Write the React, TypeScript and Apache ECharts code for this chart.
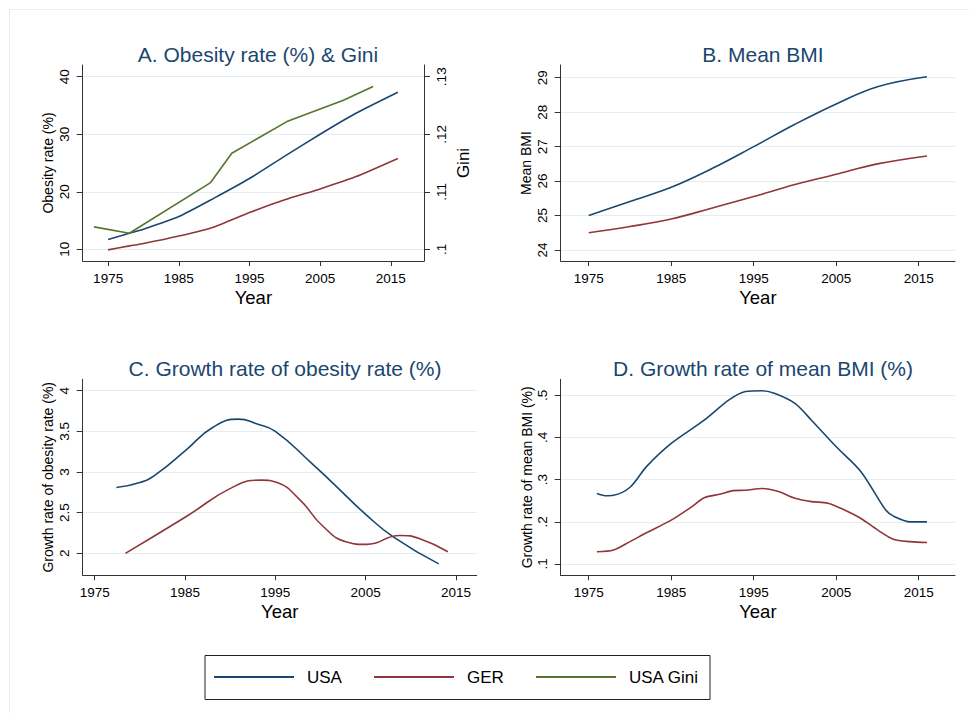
import React, { useEffect, useRef } from "react";
import * as echarts from "echarts";

// ---- Panel A: obesity rate (%) and USA Gini ----
const obYears = [1975, 1978, 1980, 1985, 1990, 1995, 2000, 2005, 2010, 2016];
const usaObesity = [11.7, 12.8, 13.5, 15.7, 18.9, 22.3, 26.2, 30.0, 33.6, 37.3];
const gerObesity = [9.9, 10.6, 11.0, 12.3, 13.9, 16.4, 18.6, 20.5, 22.6, 25.8];
const giniYears = [1973, 1978, 1989.5, 1992.5, 2000.3, 2005, 2008.3, 2012.5];
const usaGini = [0.1039, 0.1028, 0.1116, 0.1167, 0.1222, 0.1244, 0.1259, 0.1283];

// ---- Panel B: mean BMI ----
const bmiYears = [1975, 1980, 1985, 1990, 1995, 2000, 2005, 2010, 2016];
const usaBmi = [25.0, 25.41, 25.82, 26.37, 27.0, 27.65, 28.24, 28.74, 29.03];
const gerBmi = [24.5, 24.68, 24.9, 25.22, 25.55, 25.9, 26.2, 26.5, 26.73];

// ---- Panel C: growth rate of obesity rate (%) ----
const cUsaYears = [1977.4, 1980, 1981.9, 1985.1, 1988.1, 1990.9, 1993, 1995, 1999, 2001.4, 2005.1, 2008.1, 2013.1];
const cUsaGrowth = [2.81, 2.87, 2.98, 3.27, 3.55, 3.65, 3.59, 3.5, 3.11, 2.86, 2.47, 2.2, 1.87];
const cGerYears = [1978.4, 1985.1, 1990.4, 1993.5, 1995.2, 1997.7, 2000.3, 2002.9, 2005.1, 2008.8, 2011, 2014.1];
const cGerGrowth = [2.0, 2.45, 2.82, 2.9, 2.87, 2.66, 2.33, 2.14, 2.11, 2.22, 2.18, 2.02];

// ---- Panel D: growth rate of mean BMI (%) ----
const dUsaYears = [1976, 1977, 1978, 1980, 1982, 1985, 1989, 1992, 1994, 1996, 1997.5, 2000, 2002, 2005, 2008, 2011, 2012, 2014, 2016];
const dUsaGrowth = [0.267, 0.262, 0.263, 0.282, 0.331, 0.386, 0.441, 0.489, 0.509, 0.511, 0.505, 0.481, 0.441, 0.378, 0.319, 0.228, 0.213, 0.2, 0.2];
const dGerYears = [1976, 1978, 1980, 1982, 1985, 1987.5, 1989, 1991, 1992.5, 1994, 1996, 1998, 2000, 2002, 2004, 2006, 2008, 2010, 2012, 2014, 2016];
const dGerGrowth = [0.129, 0.133, 0.153, 0.174, 0.204, 0.236, 0.257, 0.266, 0.274, 0.275, 0.279, 0.272, 0.256, 0.248, 0.244, 0.228, 0.208, 0.181, 0.158, 0.153, 0.151];

// ---- tick values ----
const yearTicks = [1975, 1985, 1995, 2005, 2015];
const aTicks = [10, 20, 30, 40];
const giniTicks = [0.1, 0.11, 0.12, 0.13];
const bTicks = [24, 25, 26, 27, 28, 29];
const cTicks = [2, 2.5, 3, 3.5, 4];
const dTicks = [0.1, 0.2, 0.3, 0.4, 0.5];

const legendNames = ["USA", "GER", "USA Gini"];

const NAVY = "#1a476f";
const MAROON = "#90353b";
const GREEN = "#55752f";
const GRIDLINE = "#e4edf0";
const AXIS = "#333333";
const FONT = "'Liberation Sans', Arial, Helvetica, sans-serif";

const pairs = (xs: number[], ys: number[]) => xs.map((x, i) => [x, ys[i]]);
const dotFmt = (v: number) => String(+v.toFixed(3)).replace(/^0\./, ".");

function xAxisFor(gridIndex: number, min: number, max: number) {
  return {
    type: "value",
    gridIndex,
    min,
    max,
    name: "Year",
    nameLocation: "middle",
    nameGap: 27,
    nameTextStyle: { fontFamily: FONT, fontSize: 18.5, color: "#000" },
    axisLine: { show: true, onZero: false, lineStyle: { color: AXIS, width: 1 } },
    axisTick: { show: true, length: 5, customValues: yearTicks, lineStyle: { color: AXIS } },
    axisLabel: {
      customValues: yearTicks,
      margin: 10,
      fontFamily: FONT,
      fontSize: 13.5,
      color: "#000",
      formatter: (v: number) => String(v),
    },
    splitLine: { show: false },
  };
}

function yAxisFor(
  gridIndex: number,
  min: number,
  max: number,
  ticks: number[],
  name: string,
  fmt: (v: number) => string,
  gap: number
) {
  return {
    type: "value",
    gridIndex,
    min,
    max,
    name,
    nameLocation: "middle",
    nameGap: gap,
    nameTextStyle: { fontFamily: FONT, fontSize: 14, color: "#000" },
    axisLine: { show: true, onZero: false, lineStyle: { color: AXIS, width: 1 } },
    axisTick: { show: true, length: 6, customValues: ticks, lineStyle: { color: AXIS } },
    axisLabel: {
      customValues: ticks,
      rotate: 90,
      margin: 11,
      fontFamily: FONT,
      fontSize: 13.5,
      color: "#000",
      formatter: fmt,
    },
    splitLine: { show: true, lineStyle: { color: GRIDLINE, width: 1.2 } },
  };
}

function line(name: string, color: string, data: number[][], xi: number, yi: number, smooth: any) {
  return {
    type: "line",
    name,
    xAxisIndex: xi,
    yAxisIndex: yi,
    data,
    smooth,
    symbol: "none",
    showSymbol: false,
    lineStyle: { color, width: 1.6 },
    itemStyle: { color },
  };
}

export default function App() {
  const ref = useRef<HTMLDivElement>(null);

  useEffect(() => {
    document.body.style.margin = "0";
    if (!ref.current) return;
    const chart = echarts.init(ref.current, undefined, { renderer: "svg" });

    const titleStyle = { fontFamily: FONT, fontSize: 21, fontWeight: "normal", color: NAVY };

    const legendY = 677;
    const legendItems = [
      { x1: 214, x2: 294, tx: 307, color: NAVY, label: legendNames[0] },
      { x1: 374, x2: 454, tx: 467, color: MAROON, label: legendNames[1] },
      { x1: 536, x2: 616, tx: 629, color: GREEN, label: legendNames[2] },
    ];

    const option: any = {
      animation: false,
      backgroundColor: "#ffffff",
      title: [
        { text: "A. Obesity rate (%) & Gini", left: 253, top: 39, textAlign: "center", textStyle: titleStyle },
        { text: "B. Mean BMI", left: 758, top: 39, textAlign: "center", textStyle: titleStyle },
        { text: "C. Growth rate of obesity rate (%)", left: 280, top: 353, textAlign: "center", textStyle: titleStyle },
        { text: "D. Growth rate of mean BMI (%)", left: 758, top: 353, textAlign: "center", textStyle: titleStyle },
      ],
      grid: [
        { left: 82.7, top: 65, width: 341.3, height: 196 },
        { left: 560.7, top: 65, width: 394.3, height: 196 },
        { left: 82.7, top: 379.3, width: 394, height: 196 },
        { left: 560.7, top: 379.3, width: 394.3, height: 196 },
      ],
      xAxis: [
        xAxisFor(0, 1971.4, 2019.7),
        xAxisFor(1, 1971.6, 2019.4),
        xAxisFor(2, 1973.67, 2017.3),
        xAxisFor(3, 1971.6, 2019.4),
      ],
      yAxis: [
        yAxisFor(0, 7.97, 42.04, aTicks, "Obesity rate (%)", (v) => String(v), 28),
        {
          type: "value",
          gridIndex: 0,
          position: "right",
          min: 0.09797,
          max: 0.13204,
          name: "Gini",
          nameLocation: "middle",
          nameGap: 31,
          nameTextStyle: { fontFamily: FONT, fontSize: 17, color: "#000" },
          axisLine: { show: true, onZero: false, lineStyle: { color: AXIS, width: 1 } },
          axisTick: { show: true, length: 6, customValues: giniTicks, lineStyle: { color: AXIS } },
          axisLabel: {
            customValues: giniTicks,
            rotate: 90,
            margin: 10,
            fontFamily: FONT,
            fontSize: 13.5,
            color: "#000",
            formatter: dotFmt,
          },
          splitLine: { show: false },
        },
        yAxisFor(1, 23.68, 29.37, bTicks, "Mean BMI", (v) => String(v), 28),
        yAxisFor(2, 1.73, 4.14, cTicks, "Growth rate of obesity rate (%)", (v) => String(v), 28),
        yAxisFor(3, 0.0732, 0.538, dTicks, "Growth rate of mean BMI (%)", dotFmt, 27),
      ],
      series: [
        line("USA", NAVY, pairs(obYears, usaObesity), 0, 0, 0.2),
        line("GER", MAROON, pairs(obYears, gerObesity), 0, 0, 0.2),
        line("USA Gini", GREEN, pairs(giniYears, usaGini), 0, 1, false),
        line("USA", NAVY, pairs(bmiYears, usaBmi), 1, 2, 0.4),
        line("GER", MAROON, pairs(bmiYears, gerBmi), 1, 2, 0.4),
        line("USA", NAVY, pairs(cUsaYears, cUsaGrowth), 2, 3, 0.5),
        line("GER", MAROON, pairs(cGerYears, cGerGrowth), 2, 3, 0.5),
        line("USA", NAVY, pairs(dUsaYears, dUsaGrowth), 3, 4, 0.3),
        line("GER", MAROON, pairs(dGerYears, dGerGrowth), 3, 4, 0.3),
      ],
      graphic: [
        {
          type: "rect",
          shape: { x: 9.5, y: 9.5, width: 975, height: 720 },
          style: { fill: "none", stroke: "#ececec", lineWidth: 1 },
          silent: true,
        },
        {
          type: "rect",
          shape: { x: 205, y: 655.5, width: 505, height: 44 },
          style: { fill: "#ffffff", stroke: "#222222", lineWidth: 1 },
          silent: true,
        },
        ...legendItems.flatMap((it) => [
          {
            type: "line",
            shape: { x1: it.x1, y1: legendY, x2: it.x2, y2: legendY },
            style: { stroke: it.color, lineWidth: 1.8 },
            silent: true,
          },
          {
            type: "text",
            x: it.tx,
            y: legendY,
            style: {
              text: it.label,
              fontFamily: FONT,
              fontSize: 17,
              fill: "#000",
              verticalAlign: "middle",
              align: "left",
            },
            silent: true,
          },
        ]),
      ],
    };

    chart.setOption(option);
    return () => chart.dispose();
  }, []);

  return <div ref={ref} style={{ width: 969, height: 713 }} />;
}
